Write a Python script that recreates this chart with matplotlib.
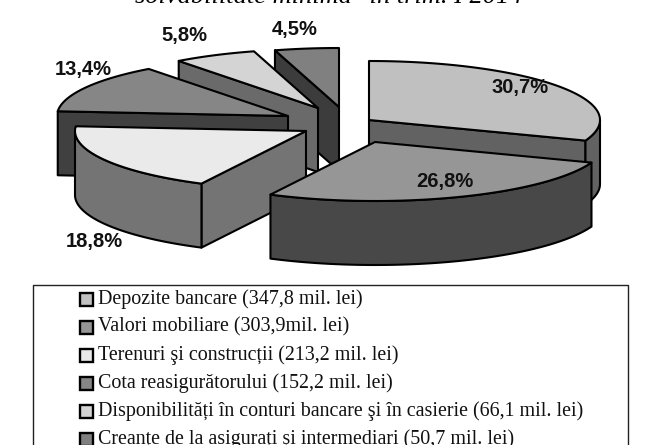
import numpy as np
import matplotlib
matplotlib.use('Agg')
import matplotlib.pyplot as plt
from matplotlib.patches import Polygon, Rectangle

# values in mil. lei
names = ['Depozite bancare (347,8 mil. lei)',
         'Valori mobiliare (303,9mil. lei)',
         'Terenuri şi construcții (213,2 mil. lei)',
         'Cota reasigurătorului (152,2 mil. lei)',
         'Disponibilități în conturi bancare şi în casierie (66,1 mil. lei)',
         'Creanțe de la asigurați și intermediari (50,7 mil. lei)']
values = [347.8, 303.9, 213.2, 152.2, 66.1, 50.7]
pct_labels = ['30,7%', '26,8%', '18,8%', '13,4%', '5,8%', '4,5%']
title = 'solvabilitate minimă" în trim. I 2014'

top_colors = ['#c0c0c0', '#969696', '#eaeaea', '#868686', '#d4d4d4', '#808080']
wall_colors = ['#626262', '#484848', '#747474', '#404040', '#6a6a6a', '#3c3c3c']

# where each exploded slice sits, and where its label goes (picture pixels)
apex = [(369, 120), (375, 142), (306, 131), (288, 116), (318, 108), (339, 107)]
label_pos = [(520, 87), (445, 182), (94, 242), (83, 69), (184, 36), (295, 29)]
draw_order = [5, 4, 3, 0, 2, 1]

A, B, DEPTH = 231, 59, 64
LW = 1.5


def rim(center, angles):
    # angles are clockwise from 12 o'clock, as in the original pie
    return np.column_stack([center[0] + A * np.sin(angles),
                            center[1] - B * np.cos(angles)])


def draw_slice(ax, center, a0, a1, top, wall):
    arc = rim(center, np.linspace(a0, a1, 120))
    c = np.array(center, dtype=float)
    down = np.array([0, DEPTH])

    # only the cut faces turned towards the viewer
    if np.sin(a0) < 0:
        ax.add_patch(Polygon([c, arc[0], arc[0] + down, c + down], fc=wall, ec='black',
                             lw=LW, joinstyle='round'))
    if np.sin(a1) > 1e-6:
        ax.add_patch(Polygon([c, arc[-1], arc[-1] + down, c + down], fc=wall, ec='black',
                             lw=LW, joinstyle='round'))

    lo, hi = max(a0, np.pi / 2), min(a1, 3 * np.pi / 2)
    if hi > lo:
        front = rim(center, np.linspace(lo, hi, 100))
        ax.add_patch(Polygon(np.vstack([front, (front + down)[::-1]]),
                             fc=wall, ec='black', lw=LW, joinstyle='round'))

    ax.add_patch(Polygon(np.vstack([c, arc]), fc=top, ec='black', lw=LW,
                         joinstyle='round'))


fig = plt.figure(figsize=(6.63, 4.45), dpi=100)
ax = fig.add_axes([0, 0, 1, 1])
ax.set_xlim(0, 663)
ax.set_ylim(445, 0)
ax.axis('off')

edges = np.concatenate([[0], np.cumsum(values)]) / np.sum(values) * 2 * np.pi
for i in draw_order:
    draw_slice(ax, apex[i], edges[i], edges[i + 1], top_colors[i], wall_colors[i])

for (x, y), s in zip(label_pos, pct_labels):
    ax.text(x, y, s, ha='center', va='center', fontsize=14.5, fontweight='bold',
            family='Liberation Sans', color='#111111')

ax.text(329, 3, title, ha='center', va='baseline', fontsize=19, style='italic',
        family='Liberation Serif')

# legend box runs off the bottom of the picture
ax.plot([33, 33, 628, 628], [446, 285, 285, 446], color='#222222', lw=1)
for k, (s, c) in enumerate(zip(names, top_colors)):
    y = 299 + 28 * k
    ax.add_patch(Rectangle((80, y - 6.5), 13, 13, fc=c, ec='black', lw=1.7))
    ax.text(98, y, s, ha='left', va='center', fontsize=14.4, family='Liberation Serif',
            color='#111111')

fig.savefig('out.png', dpi=100)
